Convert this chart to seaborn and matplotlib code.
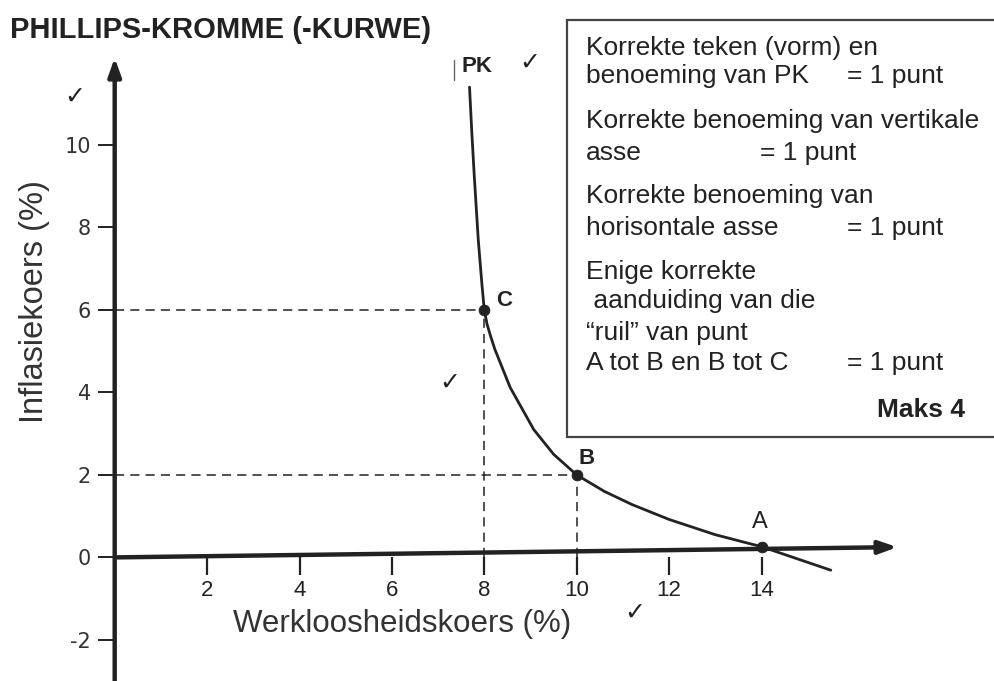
import matplotlib
matplotlib.use("Agg")
import matplotlib.pyplot as plt
import matplotlib.patches as mpatches
from matplotlib.lines import Line2D
import seaborn as sns
import pandas as pd

# curve (unemployment %, inflation %)
curve_x = [7.68, 7.73, 7.78, 7.87, 7.95, 8.0, 8.06, 8.14, 8.23, 8.56, 9.07, 9.5, 10.0, 10.6, 11.2, 12.0, 13.0, 14.0, 15.5]
curve_y = [11.4, 10.3, 9.3, 7.69, 6.6, 6.0, 5.65, 5.35, 5.04, 4.12, 3.1, 2.5, 2.0, 1.6, 1.28, 0.92, 0.55, 0.26, -0.31]

point_names = ["A", "B", "C"]
point_x = [14, 10, 8]
point_y = [0.26, 2, 6]

x_ticks = [2, 4, 6, 8, 10, 12, 14]
y_ticks = [-2, 0, 2, 4, 6, 8, 10]

title = "PHILLIPS-KROMME (-KURWE)"
x_label = "Werkloosheidskoers (%)"
y_label = "Inflasiekoers (%)"

box_lines = [
    ("Korrekte teken (vorm) en", ""),
    ("benoeming van PK", "= 1 punt"),
    ("Korrekte benoeming van vertikale", ""),
    ("asse", "= 1 punt"),
    ("Korrekte benoeming van", ""),
    ("horisontale asse", "= 1 punt"),
    ("Enige korrekte", ""),
    (" aanduiding van die", ""),
    ("\u201cruil\u201d van punt", ""),
    ("A tot B en B tot C", "= 1 punt"),
]

sns.set_theme(style="white")
plt.rcParams["font.family"] = ["Liberation Sans", "DejaVu Sans"]

W, H = 994, 681
fig = plt.figure(figsize=(W / 100, H / 100), dpi=100)
ax = fig.add_axes([0, 0, 1, 1])
# 0 on both axes sits at pixel (114.7, 557.4); 46.2 px per x unit, 41.25 px per y unit
ax.set_xlim(-114.7 / 46.2, (W - 114.7) / 46.2)
ax.set_ylim(-(H - 557.4) / 41.25, 557.4 / 41.25)
ax.set_facecolor("white")
ink = "#222222"

def fx(px):
    return px / W

def fy(py):
    return 1 - py / H

# axes drawn as arrows
ax.annotate("", xy=(0, 12.18), xytext=(0, -3.2),
            arrowprops=dict(arrowstyle="-|>,head_length=0.9,head_width=0.32", lw=3.2, color=ink))
ax.annotate("", xy=(17.0, 0.25), xytext=(0, 0),
            arrowprops=dict(arrowstyle="-|>,head_length=0.9,head_width=0.32", lw=3.2, color=ink))

for s in ax.spines.values():
    s.set_visible(False)
ax.spines["left"].set_position(("data", 0))
ax.spines["bottom"].set_position(("data", 0))
ax.set_xticks(x_ticks)
ax.set_yticks(y_ticks)
ax.set_xticklabels([str(t) for t in x_ticks], fontsize=16)
ax.set_yticklabels([str(t) for t in y_ticks], family=["DejaVu Sans"], fontsize=15)
ax.tick_params(axis="x", direction="out", length=13, width=1.6, color=ink, pad=3, labelcolor=ink,
               bottom=True)
ax.tick_params(axis="y", direction="out", length=12, width=1.4, color=ink, pad=5, labelcolor="#333333",
               left=True)

# dashed guides to C and B
for px, py in zip(point_x[1:], point_y[1:]):
    ax.plot([0, px], [py, py], color=ink, lw=1.1, ls=(0, (6, 4)))
    ax.plot([px, px], [0, py], color=ink, lw=1.1, ls=(0, (6, 4)))

curve = pd.DataFrame({"x": curve_x, "y": curve_y})
sns.lineplot(data=curve, x="x", y="y", ax=ax, color=ink, lw=2.0, sort=False)

pts = pd.DataFrame({"x": point_x, "y": point_y, "name": point_names})
sns.scatterplot(data=pts, x="x", y="y", ax=ax, color=ink, s=60, edgecolor=ink, zorder=5)
ax.set_xlabel("")
ax.set_ylabel("")

# point labels
label_style = {
    "A": dict(offset=(-1.5, 18), fontsize=17, fontweight="normal"),
    "B": dict(offset=(7, 12), fontsize=16, fontweight="bold"),
    "C": dict(offset=(14.5, 6.5), fontsize=16, fontweight="bold"),
}
for name, px, py in zip(point_names, point_x, point_y):
    st = label_style[name]
    ax.annotate(name, (px, py), xytext=st["offset"], textcoords="offset points",
                fontsize=st["fontsize"], fontweight=st["fontweight"], color=ink,
                ha="center", va="center")

fig.text(fx(477), fy(66), "PK", fontsize=16, fontweight="bold", color=ink, va="center", ha="center")
fig.add_artist(Line2D([fx(454), fx(454)], [fy(60), fy(80)], color="#666666", lw=1.0,
                      transform=fig.transFigure))

# title and axis titles
fig.text(fx(10), fy(38), title, fontsize=21, fontweight="bold", color=ink, va="baseline")
fig.text(fx(402), fy(624), x_label, fontsize=22.5, color="#333333", va="center", ha="center")
fig.text(fx(35), fy(302), y_label, fontsize=23.5, color="#333333", va="center", ha="center", rotation=90)

# check marks
for cx, cy in [(75, 97), (530, 63), (450, 383), (635, 613)]:
    fig.text(fx(cx), fy(cy), "\u2713", fontsize=18, color=ink, va="center", ha="center", family="DejaVu Sans")

# marking box
fig.patches.append(mpatches.Rectangle((fx(567), fy(437)), 1.02 - fx(567), fy(20) - fy(437),
                                      transform=fig.transFigure, fill=True, facecolor="white",
                                      edgecolor="#444444", lw=1.6, zorder=0))
baselines = [55, 83, 128, 160, 203, 235, 279, 308, 340, 370]
for (left, right), by in zip(box_lines, baselines):
    fig.text(fx(586), fy(by), left, fontsize=19, color=ink, va="baseline")
    if right:
        rx = 760 if left == "asse" else 847
        fig.text(fx(rx), fy(by), right, fontsize=19, color=ink, va="baseline")
fig.text(fx(965), fy(417), "Maks 4", fontsize=19, fontweight="bold", color=ink, va="baseline", ha="right")

fig.savefig("out.png", dpi=100, facecolor="white")
